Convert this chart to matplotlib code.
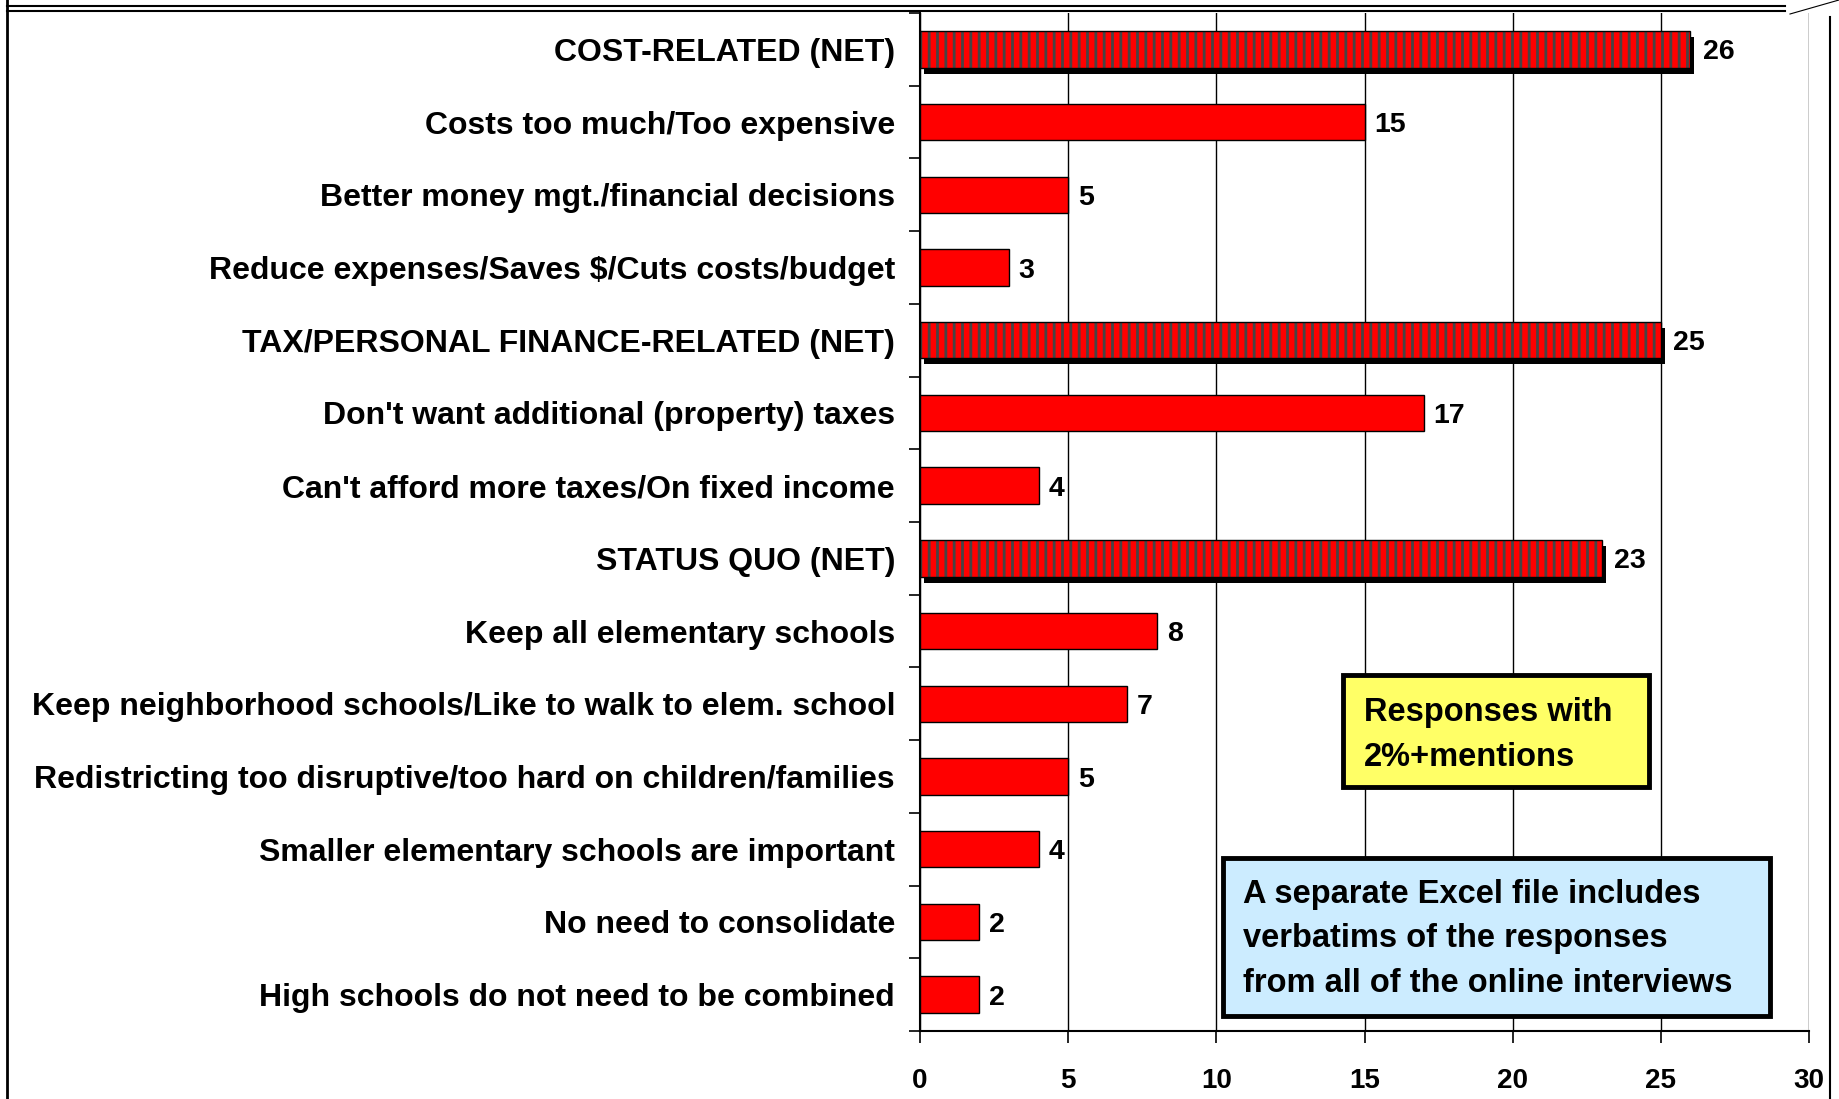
import matplotlib
matplotlib.use("Agg")
import matplotlib.pyplot as plt
import matplotlib.patches as mpatches
import matplotlib.transforms as mtransforms
from matplotlib.lines import Line2D
import numpy as np

# ── Data ─────────────────────────────────────────────────────────────
CATEGORIES = [
    "COST-RELATED (NET)",
    "Costs too much/Too expensive",
    "Better money mgt./financial decisions",
    "Reduce expenses/Saves $/Cuts costs/budget",
    "TAX/PERSONAL FINANCE-RELATED (NET)",
    "Don't want additional (property) taxes",
    "Can't afford more taxes/On fixed income",
    "STATUS QUO (NET)",
    "Keep all elementary schools",
    "Keep neighborhood schools/Like to walk to elem. school",
    "Redistricting too disruptive/too hard on children/families",
    "Smaller elementary schools are important",
    "No need to consolidate",
    "High schools do not need to be combined",
]
VALUES = [26, 15, 5, 3, 25, 17, 4, 23, 8, 7, 5, 4, 2, 2]
IS_NET = [True, False, False, False, True, False, False, True,
          False, False, False, False, False, False]
X_TICKS = [0, 5, 10, 15, 20, 25, 30]

RED = "#FF0000"
STRIPE = "#454545"
FONT = ["Liberation Sans", "DejaVu Sans"]

plt.rcParams["hatch.linewidth"] = 2.0

W, H = 1839, 1099
fig = plt.figure(figsize=(W / 100, H / 100), dpi=100)
ax = fig.add_axes([920 / W, 1 - 1031 / H, (1809 - 920) / W, (1031 - 13) / H])

y = np.arange(len(CATEGORIES))
bar_h = 0.5

net_y = [yy for yy, n in zip(y, IS_NET) if n]
net_v = [v for v, n in zip(VALUES, IS_NET) if n]
reg_y = [yy for yy, n in zip(y, IS_NET) if not n]
reg_v = [v for v, n in zip(VALUES, IS_NET) if not n]

# shadows for NET bars
shadow = ax.transData + mtransforms.ScaledTranslation(0.04, -0.06, fig.dpi_scale_trans)
ax.barh(net_y, net_v, height=bar_h, color="black", edgecolor="none",
        transform=shadow, zorder=3)
# striped NET bars
ax.barh(net_y, net_v, height=bar_h, color=RED, edgecolor=STRIPE,
        hatch="||", linewidth=0, zorder=4)
ax.barh(net_y, net_v, height=bar_h, color="none", edgecolor="black",
        linewidth=1.0, zorder=5)
# plain bars
ax.barh(reg_y, reg_v, height=bar_h, color=RED, edgecolor="black",
        linewidth=1.0, zorder=4)

for yy, v, n in zip(y, VALUES, IS_NET):
    ax.annotate(f"{v}", xy=(v, yy), xytext=(9 if n else 7, 0),
                textcoords="offset points", va="center_baseline", ha="left",
                fontsize=20.5, fontweight="bold", family=FONT)

ax.set_xlim(0, 30)
ax.set_ylim(len(CATEGORIES) - 0.5, -0.5)
ax.set_xticks(X_TICKS)
ax.set_xticklabels([str(t) for t in X_TICKS], fontsize=20,
                   fontweight="bold", family=FONT)
ax.tick_params(axis="x", direction="out", length=8.5, width=1.2, pad=18)
ax.set_yticks(y)
ax.set_yticklabels(CATEGORIES, fontsize=23, fontweight="bold", family=FONT)
ax.tick_params(axis="y", which="major", length=0, pad=18)
ax.set_yticks(np.arange(-0.5, len(CATEGORIES) + 0.5, 1), minor=True)
ax.tick_params(axis="y", which="minor", direction="out", length=8, width=1.2)

ax.grid(axis="x", color="black", linewidth=1.0, zorder=0)
ax.set_axisbelow(True)
for side in ["top", "right"]:
    ax.spines[side].set_visible(False)
ax.spines["left"].set_linewidth(1.5)
ax.spines["bottom"].set_linewidth(1.5)

# callout boxes
def fig_box(x0, y0, x1, y1, face):
    rect = mpatches.Rectangle((x0 / W, 1 - y1 / H), (x1 - x0) / W, (y1 - y0) / H,
                              transform=fig.transFigure, facecolor=face,
                              edgecolor="black", linewidth=3.5, zorder=10)
    fig.patches.append(rect)

fig_box(1343, 675, 1649, 787, "#FFFF66")
fig.text(1364 / W, 1 - 735 / H, "Responses with\n2%+mentions", ha="left",
         va="center", fontsize=23.5, fontweight="bold", family=FONT,
         linespacing=1.55, zorder=11)

fig_box(1223, 858, 1770, 1016, "#CCECFF")
fig.text(1243 / W, 1 - 939 / H,
         "A separate Excel file includes\nverbatims of the responses\nfrom all of the online interviews",
         ha="left", va="center", fontsize=23.5, fontweight="bold", family=FONT,
         linespacing=1.55, zorder=11)

# page border
for xs, ys, lw in [([7, 7], [0, H], 2.0),
                   ([7, 1785], [6, 6], 1.5),
                   ([7, 1785], [11, 11], 1.5),
                   ([1830, 1830], [17, H], 1.5),
                   ([1790, 1839], [14, 0], 0.8)]:
    fig.add_artist(Line2D([x / W for x in xs], [1 - v / H for v in ys],
                          transform=fig.transFigure, color="black", linewidth=lw))

fig.savefig("out.png", dpi=100)
